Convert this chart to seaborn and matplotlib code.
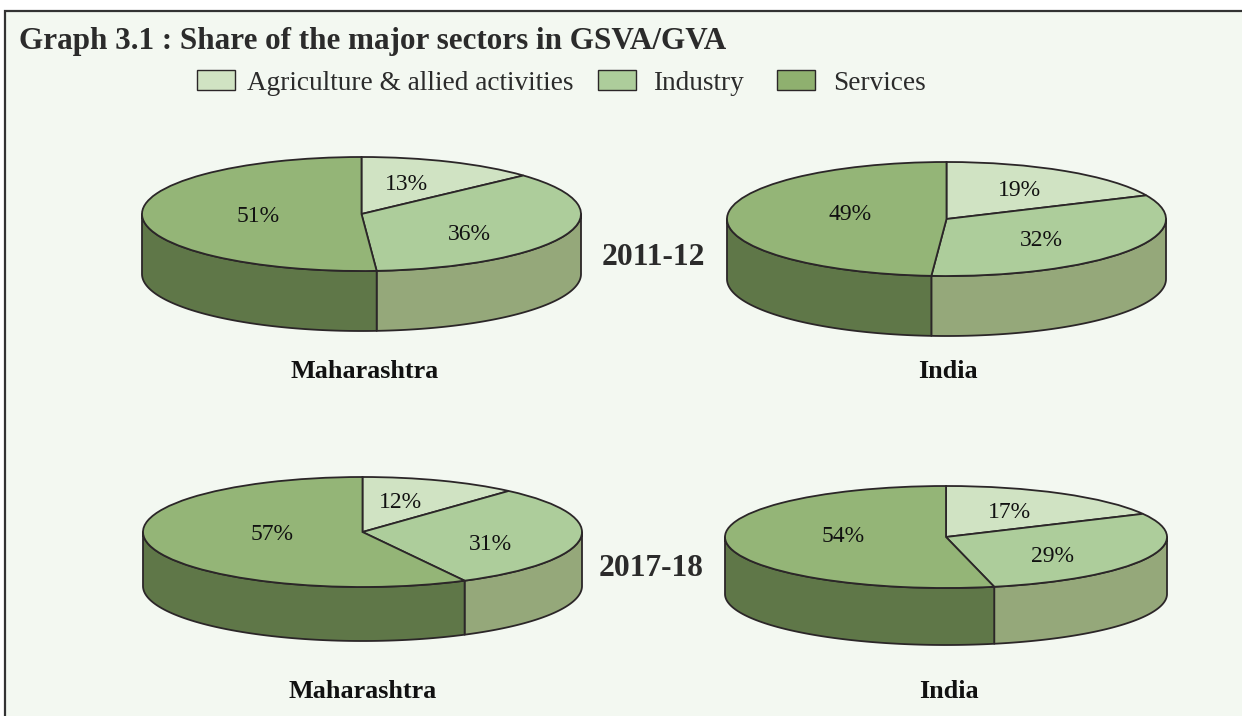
import matplotlib
matplotlib.use('Agg')
import numpy as np
import matplotlib.pyplot as plt
from matplotlib.patches import Rectangle, Patch
import seaborn as sns

sns.set_theme(style='white')
plt.rcParams['font.family'] = ['Liberation Serif', 'DejaVu Serif']

W, H = 1242, 716

sectors = ['Agriculture & allied activities', 'Industry', 'Services']
# printed percentages
mh_2011 = [13, 36, 51]
in_2011 = [19, 32, 49]
mh_2018 = [12, 31, 57]
in_2018 = [17, 29, 54]
# slice sizes as drawn, they differ a little from the rounded labels
mh_2011_drawn = [13.2, 35.7, 51.1]
in_2011_drawn = [18.2, 32.9, 48.9]
mh_2018_drawn = [11.6, 30.7, 57.7]
in_2018_drawn = [17.5, 29.0, 53.5]
years = ['2011-12', '2017-18']
regions = ['Maharashtra', 'India', 'Maharashtra', 'India']

top_colors = sns.color_palette(['#d0e3c3', '#adcd9b', '#94b577'])
side_colors = sns.color_palette(['#c3d1b0', '#95a87a', '#5f7748'])
swatch_colors = sns.color_palette(['#d0e3c3', '#adcd9b', '#8fb06f'])
edge = '#2b2628'
bg = '#f3f8f1'


def px(x, y):
    return x / W, 1 - y / H


# layout: centre x, top of ellipse, bottom of ellipse, bottom of wall, half width
layouts = [
    (361.5, 157, 271, 331, 219.5),
    (946.5, 162, 276, 336, 219.5),
    (362.5, 477, 587, 641, 219.5),
    (946, 486, 588, 645, 221),
]
label_pos = [
    [(406, 184), (469, 234), (258, 216)],
    [(1019, 190), (1041, 241), (850, 214)],
    [(400, 502), (490, 544), (272, 534)],
    [(1009, 513), (1052, 556), (843, 537)],
]
region_pos = [(365, 372), (948, 372), (363, 691), (949, 691)]
year_pos = [(653, 257), (651, 569)]

fig = plt.figure(figsize=(W / 100, H / 100), dpi=100, facecolor='white')

# panel background + frame, runs off the right and bottom edges
fig.add_artist(Rectangle(px(5, 730), 1260 / W, 719 / H, transform=fig.transFigure,
                         facecolor=bg, edgecolor='#333333', linewidth=1.6, zorder=-1))

printed = [mh_2011, in_2011, mh_2018, in_2018]
drawn = [mh_2011_drawn, in_2011_drawn, mh_2018_drawn, in_2018_drawn]
for vals, shares, (cx, y_top, y_bot, y_wall, rx), labels in zip(printed, drawn, layouts, label_pos):
    ry = (y_bot - y_top) / 2
    depth = (y_wall - y_bot) / ry
    left, bottom = px(cx - rx, y_wall)
    ax = fig.add_axes([left, bottom, 2 * rx / W, (y_wall - y_top) / H])
    ax.patch.set_alpha(0)

    # side wall, only the front half of the rim shows
    edges = np.cumsum([0] + shares) * 3.6
    for i in range(3):
        a0, a1 = max(edges[i], 90), min(edges[i + 1], 270)
        if a1 <= a0:
            continue
        a = np.radians(np.linspace(a0, a1, 80))
        xs = np.sin(a)
        ys = np.cos(a)
        ax.fill(np.r_[xs, xs[::-1]], np.r_[ys, ys[::-1] - depth],
                facecolor=side_colors[i], edgecolor=edge, linewidth=1.3,
                clip_on=False, zorder=1, joinstyle='round')

    ax.pie(shares, colors=top_colors, startangle=90, counterclock=False, radius=1,
           wedgeprops={'edgecolor': edge, 'linewidth': 1.3, 'clip_on': False, 'zorder': 2})
    ax.set_aspect('auto')
    ax.set_xlim(-1, 1)
    ax.set_ylim(-1 - depth, 1)
    ax.axis('off')

    for v, (lx, ly) in zip(vals, labels):
        x, y = px(lx, ly)
        fig.text(x, y, f'{v}%', ha='center', va='center', fontsize=17, color='#111111')

fig.text(*px(19, 42), 'Graph 3.1 : Share of the major sectors in GSVA/GVA',
         fontsize=22.4, fontweight='bold', color='#2b2b2b', ha='left', va='center')

for name, (x, y) in zip(regions, region_pos):
    fig.text(*px(x, y), name, fontsize=18.8, fontweight='bold', color='#111111',
             ha='center', va='center')
for name, (x, y) in zip(years, year_pos):
    fig.text(*px(x, y), name, fontsize=22.7, fontweight='bold', color='#2b2b2b',
             ha='center', va='center')

# one legend per entry, the gaps in the original are uneven
legend_x = [197, 598, 777]
legend_pad = [0.44, 0.62, 0.66]
for name, col, x, pad in zip(sectors, swatch_colors, legend_x, legend_pad):
    handle = Patch(facecolor=col, edgecolor=edge, linewidth=1.0)
    fig.legend([handle], [name], loc='center left', bbox_to_anchor=px(x, 83),
               frameon=False, fontsize=19.6, borderpad=0, borderaxespad=0,
               handlelength=1.39, handleheight=0.7, handletextpad=pad,
               labelcolor='#2b2b2b')

fig.savefig('out.png', dpi=100, facecolor='white')
